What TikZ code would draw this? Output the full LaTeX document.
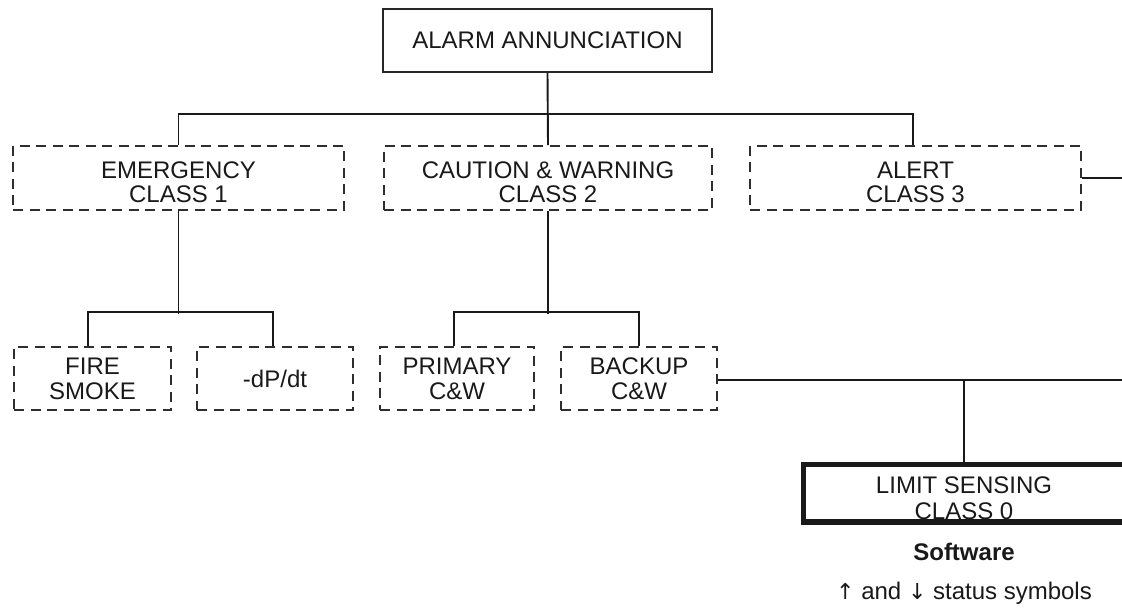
\documentclass[tikz,border=0pt]{standalone}
\usepackage{fontspec}
\setmainfont{Liberation Sans}
\newfontfamily\arrowfont{DejaVu Sans}
\newcommand\lowerstrut{\rule{0pt}{25pt}}
\begin{document}
\begin{tikzpicture}[x=1pt,y=-1pt,
  every node/.style={font=\fontsize{24}{24}\selectfont, text=black!90, inner sep=0pt, align=center},
  solidbox/.style={draw=black!85, line width=1.5pt, minimum width=329pt, minimum height=63pt},
  dashbox/.style={draw=black!82, line width=1.6pt, dash pattern=on 10pt off 6.5pt, minimum height=64pt},
  thickbox/.style={draw=black!90, line width=5.5pt},
  link/.style={draw=black!90, line width=1.9pt}]
\useasboundingbox (0,0) rectangle (1122,609);
\clip (0,0) rectangle (1122,609);
% nodes
\node[solidbox] (top) at (547.5,40.5) {ALARM ANNUNCIATION};
\node[dashbox, minimum width=331pt] (em) at (178.5,178) {\lowerstrut EMERGENCY\\CLASS 1};
\node[dashbox, minimum width=328pt] (caw) at (548,178) {\lowerstrut CAUTION \& WARNING\\CLASS 2};
\node[dashbox, minimum width=331pt] (alert) at (915.5,178) {\lowerstrut ALERT\\CLASS 3};
\node[dashbox, minimum width=157pt, minimum height=63pt] (fire) at (92.5,378.5) {FIRE\\[1pt]SMOKE};
\node[dashbox, minimum width=156pt, minimum height=63pt] (dp) at (275,378.5) {-dP/dt};
\node[dashbox, minimum width=154pt, minimum height=63pt] (prim) at (457,378.5) {PRIMARY\\[1pt]C\&W};
\node[dashbox, minimum width=156pt, minimum height=63pt] (back) at (639,378.5) {BACKUP\\[1pt]C\&W};
\node[thickbox, minimum width=340pt, minimum height=57.5pt] (limit) at (973.5,493.25) {};
\node (limtxt) at (964,498) {LIMIT SENSING\\[2pt]CLASS 0};
\node[font=\fontsize{24}{24}\selectfont\bfseries] (sw) at (964,552) {Software};
\node (status) at (964,593) {{\arrowfont\fontsize{22}{22}\selectfont ↑} and {\arrowfont\fontsize{22}{22}\selectfont ↓} status symbols};
\coordinate (alertout) at (1130,178);
\coordinate (backout) at (1130,380);
\coordinate (lsplit) at (964,380);
% connectors
\draw[link] (top.south) -- (caw.north);
\draw[link] (em.north) -- ++(0,-31) -| ([xshift=-2.5pt]alert.north);
\draw[link] (alert.east) -- (alertout);
\draw[link] (em.south) -- ++(0,103);
\draw[link] ([xshift=-4.5pt]fire.north) -- ++(0,-34) -| ([xshift=-2pt]dp.north);
\draw[link] (caw.south) -- ++(0,103);
\draw[link] ([xshift=-3pt]prim.north) -- ++(0,-34) -| (back.north);
\draw[link] (back.east |- backout) -- (backout);
\draw[link] (lsplit) -- (lsplit |- limit.north);
\end{tikzpicture}
\end{document}
